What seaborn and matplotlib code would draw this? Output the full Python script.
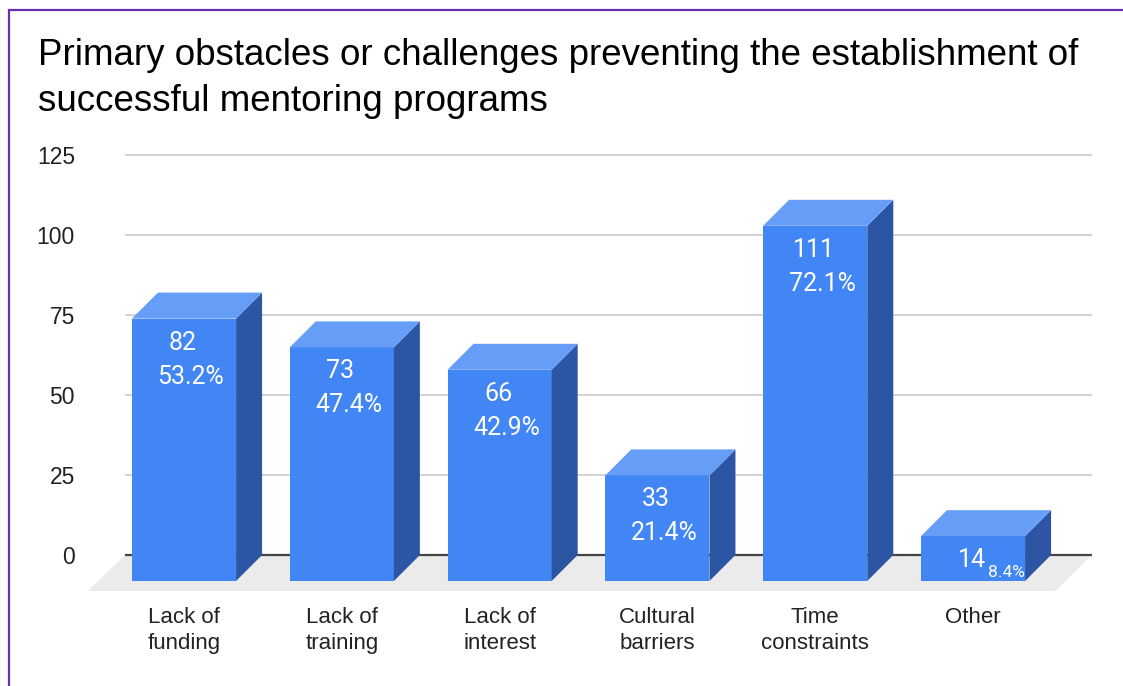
import matplotlib
matplotlib.use("Agg")
import matplotlib.pyplot as plt
import seaborn as sns
import pandas as pd
from matplotlib.patches import Polygon, Rectangle

# ---- data -------------------------------------------------------------
categories = ["Lack of\nfunding", "Lack of\ntraining", "Lack of\ninterest",
              "Cultural\nbarriers", "Time\nconstraints", "Other"]
counts = [82, 73, 66, 33, 111, 14]
percents = [53.2, 47.4, 42.9, 21.4, 72.1, 8.4]
y_ticks = [0, 25, 50, 75, 100, 125]
title = ("Primary obstacles or challenges preventing the establishment of\n"
         "successful mentoring programs")

# ---- styling ----------------------------------------------------------
FRONT = "#4285f4"
TOP = "#669df6"
SIDE = "#2c56a3"
FLOOR = "#ebebeb"
GRID = "#cccccc"
BASE = "#444444"
BORDER = "#6a2fb0"
TEXT = "#222222"

sns.set_theme(style="white")
plt.rcParams["font.family"] = ["Liberation Sans", "DejaVu Sans"]

W, H, DPI = 1123, 686, 100
fig = plt.figure(figsize=(W / DPI, H / DPI), dpi=DPI)
fig.patch.set_facecolor("white")

# axes layout (pixels)
PX_CAT = 157.8          # pixels per category step
PX_VAL = 3.2            # pixels per value unit
ax_left, ax_right, ax_bottom = 88, 1092, 591
first_back_center = 210
y_lo = -(ax_bottom - 555) / PX_VAL
y_hi = 127
xlim = ((ax_left - first_back_center) / PX_CAT, (ax_right - first_back_center) / PX_CAT)
ax_h = (y_hi - y_lo) * PX_VAL
ax = fig.add_axes([ax_left / W, (H - ax_bottom) / H, (ax_right - ax_left) / W, ax_h / H])

# 3-D depth of bars and floor, in data units
DX = 26 / PX_CAT
DY = 26 / PX_VAL
FDX = 37 / PX_CAT


def px2pt(v):
    return v * 72 / DPI


df = pd.DataFrame({"category": categories, "count": counts})
sns.barplot(data=df, x="category", y="count", color=FRONT, saturation=1,
            width=0.66, linewidth=0, ax=ax, zorder=4)
bars = list(ax.patches)

ax.set_xlim(*xlim)
ax.set_ylim(y_lo, y_hi)

# floor
grid_x0 = xlim[0] + FDX
ax.add_patch(Polygon([(grid_x0, 0), (xlim[1], 0), (xlim[1] - FDX, y_lo), (xlim[0], y_lo)],
                     closed=True, facecolor=FLOOR, edgecolor="none", zorder=1))
# grid lines on the back wall
ax.hlines(y_ticks[1:], grid_x0, xlim[1], color=GRID, lw=1.2, zorder=2)
ax.hlines(0, grid_x0, xlim[1], color=BASE, lw=1.6, zorder=3)

centers = []
for bar, v, pct in zip(bars, counts, percents):
    x0 = bar.get_x() - DX
    w = bar.get_width()
    x1 = x0 + w
    bar.set_x(x0)
    bar.set_y(-DY)
    top = v - DY
    ax.add_patch(Polygon([(x1, -DY), (x1 + DX, 0), (x1 + DX, v), (x1, top)],
                         closed=True, facecolor=SIDE, edgecolor="none", zorder=4))
    ax.add_patch(Polygon([(x0, top), (x0 + DX, v), (x1 + DX, v), (x1, top)],
                         closed=True, facecolor=TOP, edgecolor="none", zorder=4))
    cx = x0 + w / 2
    centers.append(cx)
    lbl = dict(color="white", fontfamily=["Roboto", "DejaVu Sans"],
               textcoords="offset points", zorder=6, va="center")
    ax.annotate(f"{v}", (cx, top), xytext=(px2pt(-1.5), px2pt(-24)),
                ha="center", fontsize=18, **lbl)
    if v * PX_VAL > 70:
        ax.annotate(f"{pct:.1f}%", (cx, top), xytext=(px2pt(7), px2pt(-58)),
                    ha="center", fontsize=18, **lbl)
    else:
        # short bar: the share sits beside the count in a smaller size
        ax.annotate(f"{pct:.1f}%", (cx, top), xytext=(px2pt(33), px2pt(-36)),
                    ha="center", fontsize=12.5, **lbl)

ax.set_xticks(centers, categories)
ax.set_yticks(y_ticks, [str(t) for t in y_ticks])
ax.tick_params(axis="both", length=0, labelsize=16, colors=TEXT)
ax.tick_params(axis="y", pad=px2pt(13), labelsize=16.5)
ax.tick_params(axis="x", pad=px2pt(16))
for lab in ax.get_xticklabels():
    lab.set_linespacing(1.32)
ax.set_xlabel("")
ax.set_ylabel("")
ax.grid(False)
for s in ax.spines.values():
    s.set_visible(False)
ax.set_facecolor("none")

fig.text(38 / W, 1 - 38 / H, title, fontsize=26.5, color="black",
         ha="left", va="top", linespacing=1.42)

# outer frame
fig.add_artist(Rectangle((9 / W, -0.05), 1.2, 1 - 10 / H + 0.05, transform=fig.transFigure,
                         facecolor="none", edgecolor=BORDER, lw=1.6, clip_on=False))

fig.savefig("out.png", dpi=DPI, facecolor="white")
